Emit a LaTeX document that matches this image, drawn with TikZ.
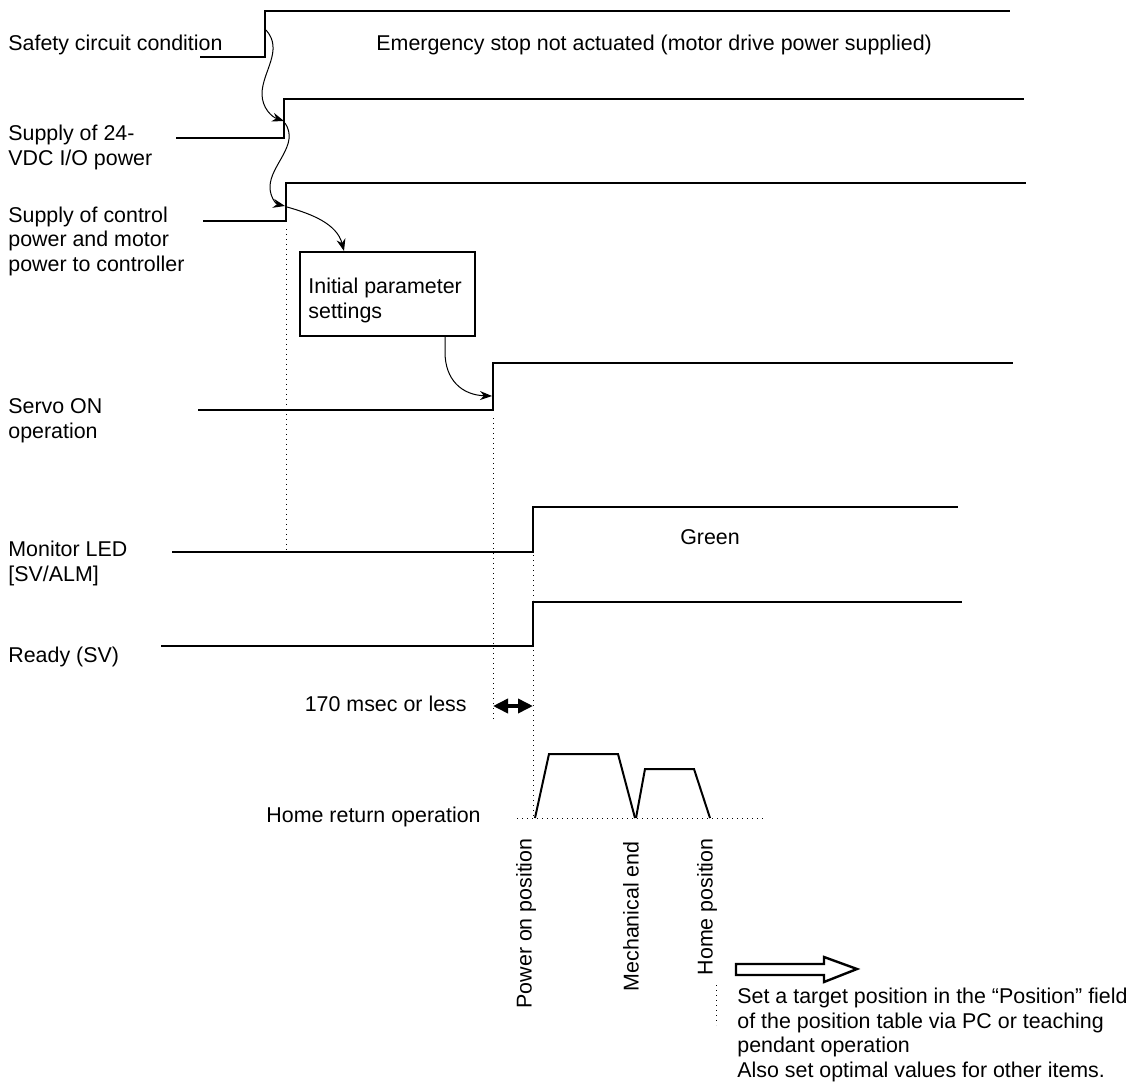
\documentclass[tikz,border=0pt]{standalone}
\usepackage{fontspec}
\setmainfont{Liberation Sans}
\usetikzlibrary{arrows.meta}
\begin{document}
\begin{tikzpicture}[x=0.5pt,y=-0.5pt,
    label/.style={font=\fontsize{10.7}{12.2}\selectfont, inner sep=0pt, align=left},
    signal/.style={line width=1pt},
    guide/.style={line width=0.5pt, dotted},
    cause/.style={line width=0.5pt, -{Stealth[length=6pt,width=4.5pt]}}]
    \useasboundingbox (0,0) rectangle (1131,1092);

    % Signal names on the left (base = last line)
    \node[label, anchor=base west] (safetyName) at (8,50) {Safety circuit condition};
    \node[label, anchor=base west] (ioName) at (8,165) {Supply of 24-\\VDC I/O power};
    \node[label, anchor=base west] (ctrlName) at (8,271) {Supply of control\\power and motor\\power to controller};
    \node[label, anchor=base west] (servoName) at (8,438) {Servo ON\\operation};
    \node[label, anchor=base west] (ledName) at (8,581) {Monitor LED\\{}[SV/ALM]};
    \node[label, anchor=base west] (readyName) at (8,662) {Ready (SV)};

    % Signal waveforms
    \draw[signal] (200,57) -- (265,57) -- (265,11) -- (1010,11);
    \draw[signal] (176,138) -- (284,138) -- (284,99) -- (1024,99);
    \draw[signal] (203,221) -- (286,221) -- (286,183) -- (1026,183);
    \draw[signal] (198,410) -- (493,410) -- (493,363) -- (1013,363);
    \draw[signal] (172,552) -- (533,552) -- (533,507) -- (958,507);
    \draw[signal] (161,646) -- (533,646) -- (533,602) -- (962,602);

    \node[label, anchor=base west] (stopText) at (376,50) {Emergency stop not actuated (motor drive power supplied)};
    \node[label] (greenText) at (710,537) {Green};

    % Initial parameter box
    \node[draw, line width=1pt, minimum width=87.5pt, minimum height=42pt, anchor=north west,
          inner sep=0pt] (initBox) at (299,251) {};
    \node[label, anchor=base west] (initText) at (308,318) {Initial parameter\\settings};

    % Timing guides
    \draw[guide] (286,229) -- (286,552);
    \draw[guide] (493,418) -- (493,719);
    \draw[guide] (533,555) -- (533,600);
    \draw[guide] (533,650) -- (533,818);

    % Cause and effect arrows
    \coordinate (safetyEdge) at (266,30);
    \coordinate (ioEdge) at (284,121);
    \coordinate (ioStart) at (285,123);
    \coordinate (ctrlEdge) at (285,206);
    \coordinate (ctrlStart) at (287,207);
    \coordinate (servoEdge) at (492,396);
    \draw[cause] (safetyEdge) .. controls (284,50) and (262,72) .. (262,94)
        .. controls (262,108) and (272,117) .. (ioEdge);
    \draw[cause] (ioStart) .. controls (300,145) and (270,165) .. (270,187)
        .. controls (270,197) and (276,204) .. (ctrlEdge);
    \draw[cause] (ctrlStart) .. controls (312,214) and (337,224) .. (initBox.north west -| 344,251);
    \draw[cause] (initBox.south west -| 445,335) -- (445,352)
        .. controls (445,380) and (462,395) .. (servoEdge);

    % Delay from Servo ON to Ready
    \coordinate (delayL) at (493,706);
    \coordinate (delayR) at (533,706);
    \draw[line width=1.8pt, {Triangle[length=7.5pt,width=7pt]}-{Triangle[length=7.5pt,width=7pt]}] (delayL) -- (delayR);
    \node[label, anchor=east] (delayText) at (467,704) {170 msec or less};

    % Home return profile
    \node[label, anchor=east] (homeText) at (481,817) {Home return operation};
    \draw[guide] (517,818) -- (763,818);
    \draw[signal] (535,818) -- (549,754) -- (618,754) -- (635,818);
    \draw[signal] (636,818) -- (645,769) -- (694,769) -- (710,818);

    \node[label, rotate=90, anchor=east] (powerPos) at (526,838) {Power on position};
    \node[label, rotate=90, anchor=east] (mechEnd) at (631,841) {Mechanical end};
    \node[label, rotate=90, anchor=east] (homePos) at (707,838) {Home position};
    \draw[guide] (716,985) -- (716,1025);

    % Next step
    \draw[line width=1.2pt] (736,964) -- (824,964) -- (824,957) -- (857,969)
        -- (824,982) -- (824,975) -- (736,975) -- cycle;
    \node[label, anchor=base west] (nextText) at (737,1077) {Set a target position in the “Position” field\\of the position table via PC or teaching\\pendant operation\\Also set optimal values for other items.};

\end{tikzpicture}
\end{document}
